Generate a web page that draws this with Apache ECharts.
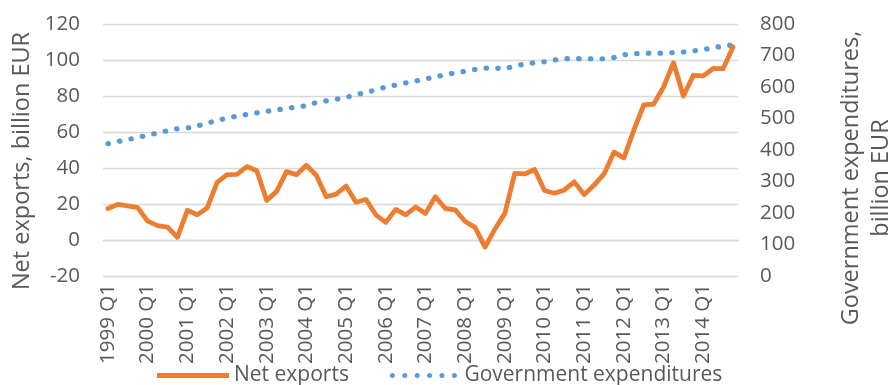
<!DOCTYPE html>
<html>
<head>
<meta charset="utf-8">
<script src="https://cdn.jsdelivr.net/npm/echarts@6/dist/echarts.min.js"></script>
<style>
html,body{margin:0;padding:0;background:#fff;}
#chart{width:893px;height:385px;}
</style>
</head>
<body>
<div id="chart"></div>
<script>
var quarters = [
 "1999 Q1","1999 Q2","1999 Q3","1999 Q4","2000 Q1","2000 Q2","2000 Q3","2000 Q4",
 "2001 Q1","2001 Q2","2001 Q3","2001 Q4","2002 Q1","2002 Q2","2002 Q3","2002 Q4",
 "2003 Q1","2003 Q2","2003 Q3","2003 Q4","2004 Q1","2004 Q2","2004 Q3","2004 Q4",
 "2005 Q1","2005 Q2","2005 Q3","2005 Q4","2006 Q1","2006 Q2","2006 Q3","2006 Q4",
 "2007 Q1","2007 Q2","2007 Q3","2007 Q4","2008 Q1","2008 Q2","2008 Q3","2008 Q4",
 "2009 Q1","2009 Q2","2009 Q3","2009 Q4","2010 Q1","2010 Q2","2010 Q3","2010 Q4",
 "2011 Q1","2011 Q2","2011 Q3","2011 Q4","2012 Q1","2012 Q2","2012 Q3","2012 Q4",
 "2013 Q1","2013 Q2","2013 Q3","2013 Q4","2014 Q1","2014 Q2","2014 Q3","2014 Q4"
];
var netExports = [
 17.5,19.8,19,18, 10.5,8,7.2,1.5,
 16.5,14,17.8,32, 36.3,36.5,40.8,38.5,
 22,27,38,36.3, 41.5,36,24,25.5,
 30,21,22.5,14, 9.8,17,14,18.3,
 14.8,24,17.5,16.7, 10.3,7,-4,6,
 14.8,37,36.7,39.2, 27.5,26,27.8,32.3,
 25.2,30.5,36.7,48.8, 45.6,61,75,75.5,
 85,98.5,80,91.5, 91.2,95.3,95.2,107.3
];
var govExpenditures = [
 420,427,433,440, 447,454,461,467.5,
 470,476,485,494, 501,507.5,513,518,
 523,527,532.5,536, 540.5,551,556,561,
 567,576,582,591.5, 600,606,613,619,
 625.5,632,639,644.5, 650,655.5,660,660,
 657.5,666.5,673,677, 680,685.5,690,690,
 690,689.5,689.5,693.5, 702.5,705,707.5,707.5,
 707.5,709,711,714.5, 718.5,724.5,730,733
];
var leftTicks = {min:-20, max:120, interval:20};
var rightTicks = {min:0, max:800, interval:100};

var FONT = "Open Sans";
var GREY = "#595959";
var solidIcon = 'path://M0,0 L72,0 L72,5 L0,5 Z';
var dotIcon = 'path://' + [0,1,2,3,4,5].map(function(k){
  var cx = 2.5 + k*12.4;
  return 'M' + (cx-2.5) + ',2.5 a2.5,2.5 0 1,0 5,0 a2.5,2.5 0 1,0 -5,0 Z';
}).join(' ');

var chart = echarts.init(document.getElementById('chart'), null, {renderer:'canvas'});
chart.setOption({
  animation:false,
  backgroundColor:'#ffffff',
  textStyle:{fontFamily:FONT, color:GREY},
  grid:{left:103, right:155, top:24, bottom:109, containLabel:false, outerBoundsMode:'none'},
  legend:{
    left:157, top:365, padding:0,
    itemWidth:72, itemHeight:5, itemGap:41,
    textStyle:{fontFamily:FONT, fontSize:21, color:GREY},
    data:[{name:'Net exports', icon:solidIcon},{name:'Government expenditures', icon:dotIcon}]
  },
  xAxis:{
    type:'category', data:quarters, boundaryGap:true,
    axisLine:{onZero:true, lineStyle:{color:'#d9d9d9', width:1.3}},
    axisTick:{show:false},
    axisLabel:{interval:3, rotate:90, margin:8, fontFamily:FONT, fontSize:20.5, color:GREY},
    splitLine:{show:false}
  },
  yAxis:[{
    type:'value', position:'left', min:leftTicks.min, max:leftTicks.max, interval:leftTicks.interval,
    name:'Net exports, billion EUR', nameLocation:'middle', nameGap:69, nameRotate:90,
    nameTextStyle:{fontFamily:FONT, fontSize:23.5, color:GREY, padding:[0,22,0,0]},
    axisLine:{show:false}, axisTick:{show:false},
    axisLabel:{margin:23, fontFamily:FONT, fontSize:20.5, color:GREY},
    splitLine:{show:true, lineStyle:{color:'#d9d9d9', width:1.3}}
  },{
    type:'value', position:'right', min:rightTicks.min, max:rightTicks.max, interval:rightTicks.interval,
    name:'Government expenditures,\nbillion EUR', nameLocation:'middle', nameGap:98, nameRotate:90,
    nameTextStyle:{fontFamily:FONT, fontSize:23.5, color:GREY, lineHeight:30, padding:[0,56,0,0]},
    axisLine:{show:false}, axisTick:{show:false},
    axisLabel:{margin:22, fontFamily:FONT, fontSize:20.5, color:GREY},
    splitLine:{show:false}
  }],
  series:[{
    name:'Net exports', type:'line', yAxisIndex:0, data:netExports,
    showSymbol:false, symbol:'none', z:3,
    itemStyle:{color:'#ED7D31'},
    lineStyle:{color:'#ED7D31', width:4.8, join:'round', cap:'round'}
  },{
    name:'Government expenditures', type:'line', yAxisIndex:1, data:govExpenditures,
    showSymbol:false, symbol:'none', z:2,
    itemStyle:{color:'#5B9BD5'},
    lineStyle:{color:'#5B9BD5', width:5.2, type:[0.5,11.2], cap:'round', join:'round'}
  }]
});
</script>
</body>
</html>
